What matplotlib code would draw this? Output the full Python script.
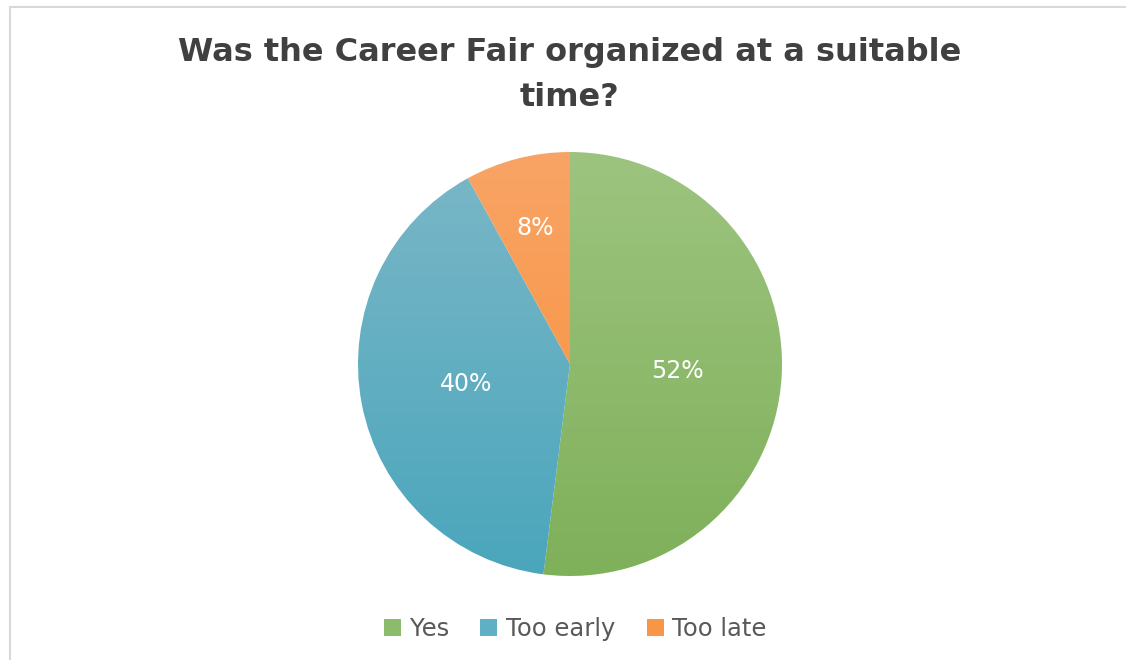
import matplotlib.pyplot as plt
import numpy as np
from matplotlib.colors import to_rgb
from matplotlib.patches import Rectangle

labels = ["Yes", "Too early", "Too late"]
shares = [52, 40, 8]
top_colors = ["#9dc47f", "#7bb7c7", "#f9a466"]
bottom_colors = ["#7fb05a", "#4aa6bc", "#f78f36"]
legend_colors = ["#8dbb6c", "#5fb0c4", "#f79746"]
label_radius = [0.51, 0.50, 0.66]

text_gray = "#595959"
title_gray = "#404040"

fig = plt.figure(figsize=(11.26, 6.6), dpi=100)
fig.patch.set_facecolor("white")

# thin chart-area frame
fig.patches.append(Rectangle((10 / 1126, -0.01), 1.2, (660 - 7) / 660 + 0.01,
                             transform=fig.transFigure, fill=False,
                             edgecolor="#d9d9d9", linewidth=1.5))

cx, cy, R = 570, 364, 212
half = 230
ax = fig.add_axes([(cx - half) / 1126, (660 - cy - half) / 660,
                   2 * half / 1126, 2 * half / 660])

wedges, _ = ax.pie(shares, radius=R, startangle=90, counterclock=False,
                   colors=top_colors, wedgeprops=dict(linewidth=0))


def gradient(c1, c2):
    a = np.array(to_rgb(c1))
    b = np.array(to_rgb(c2))
    t = np.linspace(0, 1, 256)[:, None]
    return (a * (1 - t) + b * t)[:, None, :]


for w, c1, c2, share, rf in zip(wedges, top_colors, bottom_colors, shares, label_radius):
    w.set_facecolor("none")
    img = ax.imshow(gradient(c1, c2), extent=[-R, R, -R, R], origin="upper",
                    aspect="auto", zorder=1)
    img.set_clip_path(w)
    ang = np.deg2rad((w.theta1 + w.theta2) / 2)
    ax.text(rf * R * np.cos(ang), rf * R * np.sin(ang), f"{share}%",
            ha="center", va="center", color="white", fontsize=17, zorder=3)

# pie resets the limits, so set them afterwards
ax.set_xlim(-half, half)
ax.set_ylim(-half, half)
ax.set_aspect("equal")
ax.axis("off")

fig.text(0.506, 1 - 52 / 660, "Was the Career Fair organized at a suitable",
         ha="center", va="center", fontsize=23, fontweight="bold", color=title_gray)
fig.text(0.506, 1 - 97 / 660, "time?",
         ha="center", va="center", fontsize=23, fontweight="bold", color=title_gray)

handles = [Rectangle((0, 0), 1, 1, facecolor=c) for c in legend_colors]
fig.legend(handles, labels, loc="center", bbox_to_anchor=(0.511, 1 - 629 / 660),
           ncol=3, frameon=False, fontsize=17.5, labelcolor=text_gray,
           handlelength=0.7, handleheight=0.7, handletextpad=0.35, columnspacing=1.3)

fig.savefig("out.png", dpi=100)
